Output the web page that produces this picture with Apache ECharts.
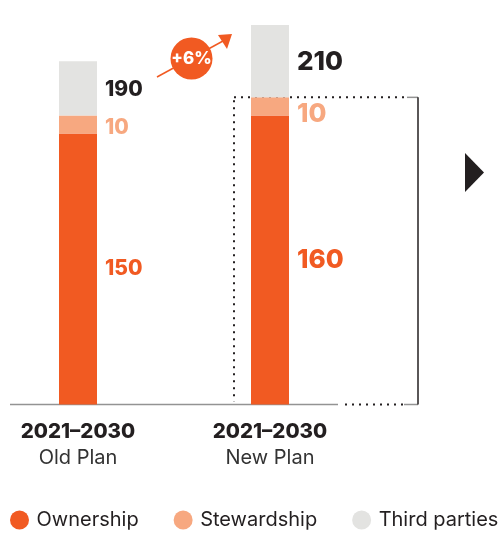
<!DOCTYPE html>
<html><head><meta charset="utf-8">
<script src="https://cdn.jsdelivr.net/npm/echarts@6/dist/echarts.min.js"></script>
<style>html,body{margin:0;padding:0;background:#fff}#c{width:501px;height:534px}</style>
</head><body><div id="c"></div>
<script>
var periods = ['2021–2030', '2021–2030'];
var plans = ['Old Plan', 'New Plan'];
var ownership = [150, 160];
var stewardship = [10, 10];
var thirdParties = [30, 40];
var totals = [190, 210];
var changeLabel = '+6%';

var C_OWN = '#F15A22', C_STEW = '#F7A880', C_THIRD = '#E3E3E1', C_TXT = '#231F20';
var FONT = 'Inter, "Noto Sans", sans-serif';
var sizes = [21, 26];

function lab(color, i, text, dy) {
  return { show: true, position: 'right', distance: 8, color: color, fontFamily: FONT,
    fontWeight: 800, fontSize: sizes[i], offset: [0, dy || 0],
    formatter: function () { return String(text); } };
}

var chart = echarts.init(document.getElementById('c'));
var option = {
  animation: false,
  grid: { left: 78, width: 192, top: 7, height: 397.5 },
  xAxis: {
    type: 'category', data: plans, boundaryGap: false,
    axisLine: { show: false }, axisTick: { show: false },
    axisLabel: {
      margin: 15,
      formatter: function (v, i) { return '{a|' + periods[i] + '}\n{b|' + v + '}'; },
      rich: {
        a: { fontFamily: FONT, fontWeight: 800, fontSize: 20.5, lineHeight: 24, color: C_TXT },
        b: { fontFamily: FONT, fontWeight: 400, fontSize: 20, lineHeight: 28, color: '#333' }
      }
    }
  },
  yAxis: { type: 'value', min: 0, max: 220, show: false, splitLine: { show: false } },
  legend: {
    left: 10, top: 510, width: 600, padding: 0, icon: 'circle', itemWidth: 20, itemHeight: 19, itemGap: 35,
    textStyle: { fontFamily: FONT, fontSize: 20, color: C_TXT, padding: [0, 0, 0, 2] },
    data: ['Ownership', 'Stewardship', 'Third parties']
  },
  series: [
    { name: 'Ownership', type: 'bar', stack: 's', barWidth: 38, itemStyle: { color: C_OWN },
      data: ownership.map(function (v, i) { return { value: v, label: lab(C_OWN, i, v, 0) }; }) },
    { name: 'Stewardship', type: 'bar', stack: 's', barWidth: 38, itemStyle: { color: C_STEW },
      data: stewardship.map(function (v, i) { return { value: v, label: lab(C_STEW, i, v, i ? 8 : 3) }; }) },
    { name: 'Third parties', type: 'bar', stack: 's', barWidth: 38, itemStyle: { color: C_THIRD },
      data: thirdParties.map(function (v, i) { return { value: v, label: lab(C_TXT, i, totals[i], 1) }; }) }
  ]
};
chart.setOption(option);

// decorations positioned from the chart's own scales
var base = chart.convertToPixel({ yAxisIndex: 0 }, 0);
var bracketTop = chart.convertToPixel({ yAxisIndex: 0 }, ownership[1] + stewardship[1]);
var xNew = chart.convertToPixel({ xAxisIndex: 0 }, 1);
var bl = xNew - 36, br = xNew + 148;
var dotted = { stroke: '#231F20', lineWidth: 2, lineDash: [2, 5] };
var gray = { stroke: '#939393', lineWidth: 1.5 };
var gfx = [
  { type: 'line', shape: { x1: 10, y1: base, x2: 338, y2: base }, style: gray, z: 1 },
  { type: 'line', shape: { x1: bl, y1: bracketTop, x2: br - 12, y2: bracketTop }, style: dotted },
  { type: 'line', shape: { x1: bl, y1: bracketTop + 3, x2: bl, y2: base - 3 }, style: dotted },
  { type: 'line', shape: { x1: 345, y1: base, x2: br - 14, y2: base }, style: dotted },
  { type: 'line', shape: { x1: br - 11, y1: bracketTop, x2: br, y2: bracketTop }, style: gray },
  { type: 'line', shape: { x1: br - 14, y1: base, x2: br, y2: base }, style: gray },
  { type: 'line', shape: { x1: br, y1: bracketTop, x2: br, y2: base }, style: { stroke: '#231F20', lineWidth: 1.5 } },
  { type: 'polygon', shape: { points: [[465, 153], [484, 172.5], [465, 192]] }, style: { fill: '#231F20' } },
  { type: 'line', shape: { x1: 157, y1: 77, x2: 223, y2: 41 }, style: { stroke: C_OWN, lineWidth: 1.5 } },
  { type: 'polygon', shape: { points: [[232, 34], [218, 35], [227, 49]] }, style: { fill: C_OWN } },
  { type: 'circle', shape: { cx: 191.5, cy: 58.5, r: 21 }, style: { fill: C_OWN } },
  { type: 'text', x: 191.5, y: 58.5, style: { text: changeLabel, fill: '#fff', font: '800 17px ' + FONT, align: 'center', verticalAlign: 'middle' } }
];
chart.setOption({ graphic: gfx });
</script></body></html>
